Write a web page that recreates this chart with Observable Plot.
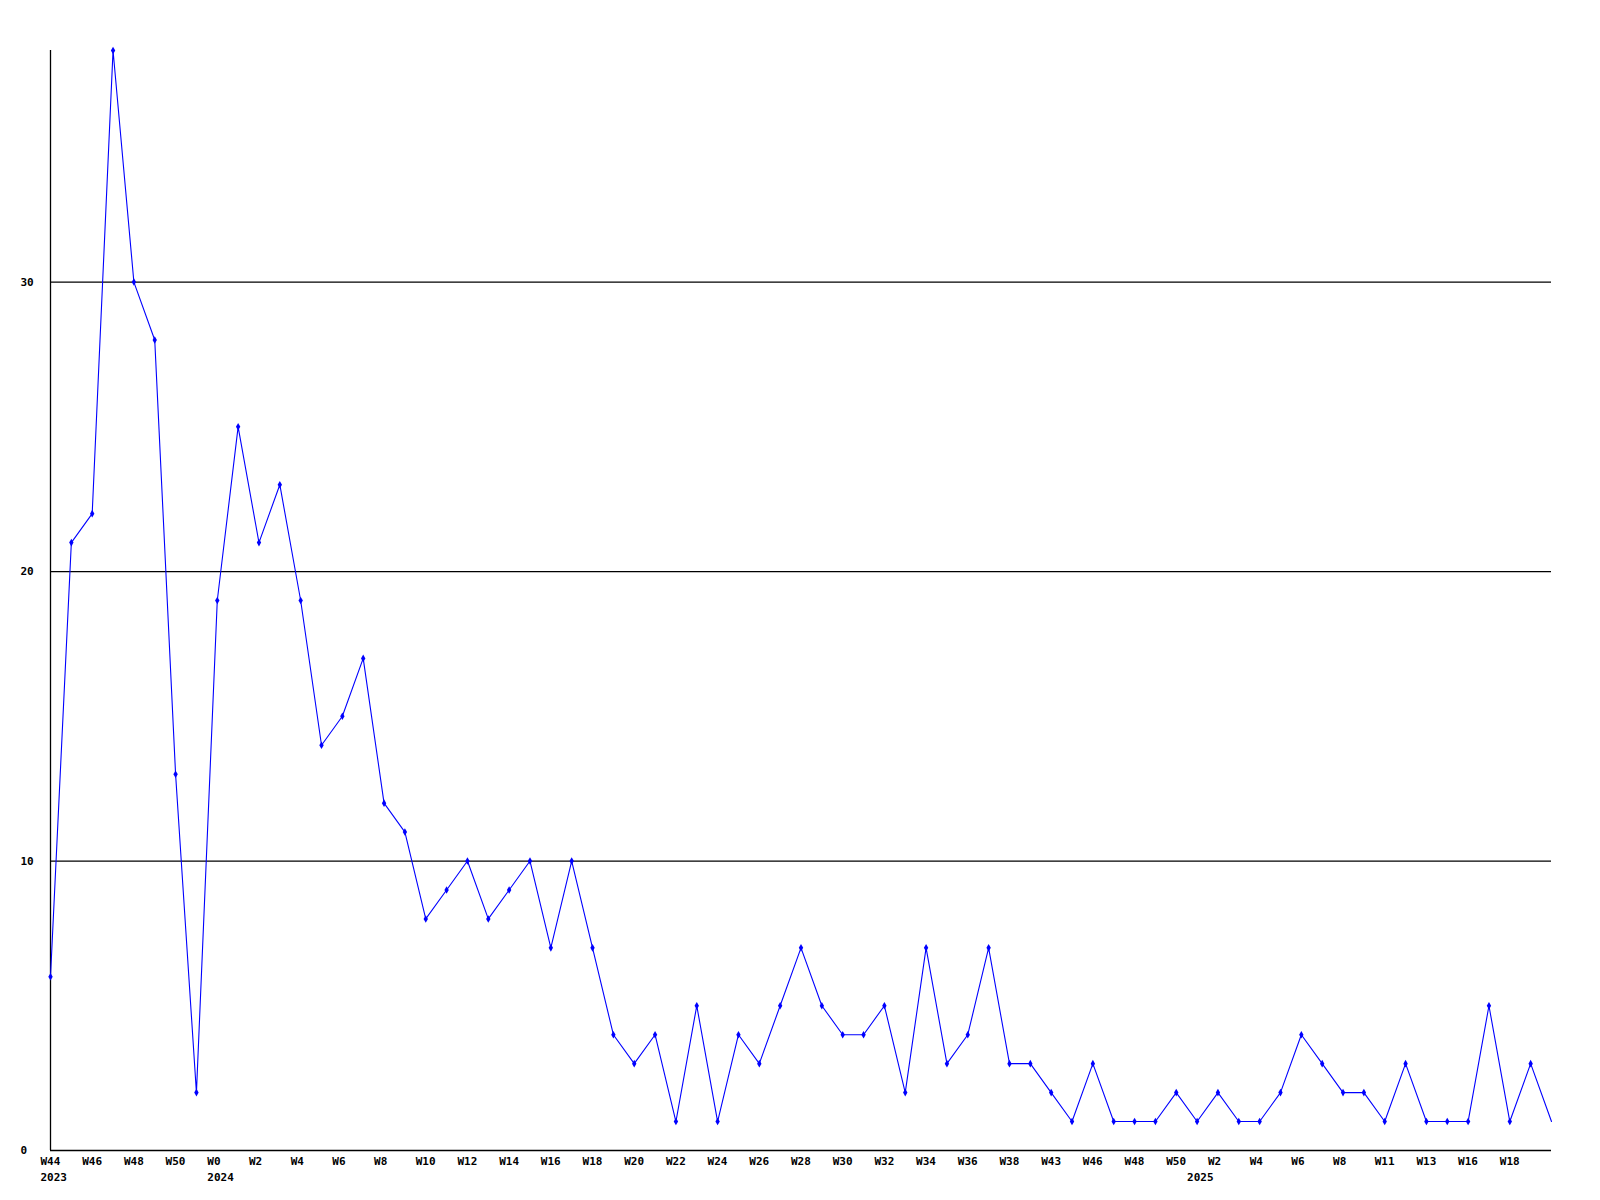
<!DOCTYPE html>
<html>
<head>
<meta charset="utf-8">
<script src="https://cdn.jsdelivr.net/npm/d3@7"></script>
<script src="https://cdn.jsdelivr.net/npm/@observablehq/plot@0.6"></script>
<style>
  html, body { margin: 0; padding: 0; background: #fff; }
  #chart svg { display: block; }
</style>
</head>
<body>
<div id="chart"></div>
<script>
const weeks = [
  "W44","W45","W46","W47","W48","W49","W50","W51",
  "W0","W1","W2","W3","W4","W5","W6","W7","W8","W9","W10","W11","W12","W13","W14","W15","W16","W17","W18","W19",
  "W20","W21","W22","W23","W24","W25","W26","W27","W28","W29","W30","W31","W32","W33","W34","W35","W36","W37","W38",
  "W39","W43","W45","W46","W47","W48","W49","W50",
  "W1","W2","W3","W4","W5","W6","W7","W8","W9","W11","W12","W13","W14","W16","W17","W18","W19","W20"
];
const counts = [
  6,21,22,38,30,28,13,2,
  19,25,21,23,19,14,15,17,12,11,8,9,10,8,9,10,7,10,
  7,4,3,4,1,5,1,4,3,5,7,5,4,4,5,2,7,3,4,7,
  3,3,2,1,3,1,1,1,2,
  1,2,1,1,2,4,3,2,2,1,3,1,1,1,5,1,3,1
];
const yearLabels = ["2023", "2024", "2025"];
const yearStarts = [0, 8, 55];
const yTicks = [0, 10, 20, 30];

const data = counts.map((v, i) => ({i, v, week: weeks[i]}));
const labelIdx = d3.range(0, weeks.length - 1, 2);
const years = yearLabels.map((y, k) => ({i: yearStarts[k], y}));

const font = "'DejaVu Sans Mono', monospace";

const chart = Plot.plot({
  width: 1600,
  height: 1200,
  marginLeft: 50,
  marginRight: 49,
  marginTop: 50,
  marginBottom: 50,
  style: {fontFamily: font, fontSize: "11px", fontWeight: "bold", color: "#000", background: "#fff"},
  x: {type: "linear", domain: [0, weeks.length - 1]},
  y: {domain: [0, 38]},
  marks: [
    Plot.gridY([10, 20, 30], {stroke: "#000", strokeOpacity: 1, strokeWidth: 1.3}),
    Plot.ruleY([0], {stroke: "#000", strokeWidth: 1.3}),
    Plot.ruleX([0], {stroke: "#000", strokeWidth: 1.3}),
    Plot.axisY({ticks: yTicks, tickSize: 0, tickPadding: 30, textAnchor: "start", fill: "#000", fontWeight: "bold", label: null}),
    Plot.axisX({ticks: labelIdx, tickFormat: i => weeks[i], tickSize: 0, tickPadding: 7, textAnchor: "start", dx: -10, fill: "#000", fontWeight: "bold", label: null}),
    Plot.text(years, {x: "i", text: "y", frameAnchor: "bottom", dy: 27, dx: -10, textAnchor: "start", lineAnchor: "middle", fill: "#000", fontWeight: "bold"}),
    Plot.line(data, {x: "i", y: "v", stroke: "#0000ff", strokeWidth: 1.1}),
    Plot.dot(data.slice(0, -1), {x: "i", y: "v", r: 2.3, fill: "#0000ff", symbol: "diamond"})
  ]
});
document.getElementById("chart").appendChild(chart);
</script>
</body>
</html>
